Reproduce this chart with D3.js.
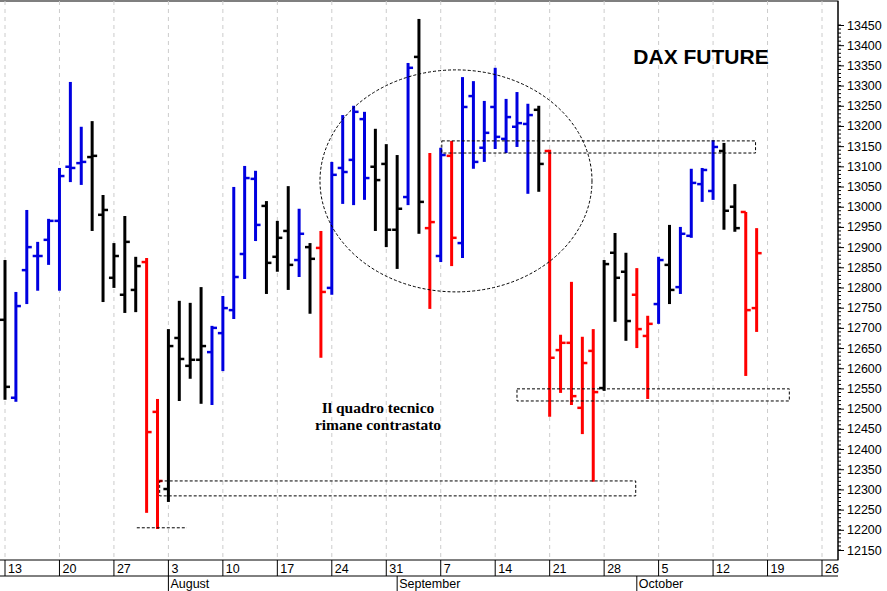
<!DOCTYPE html>
<html><head><meta charset="utf-8">
<script src="https://cdn.jsdelivr.net/npm/d3@7"></script>
<style>body{margin:0;background:#fff}svg{display:block}</style>
</head><body><svg id="c" width="887" height="591"></svg>
<script>
// Daily bars Jul 13 - Oct 16 (trading days, consecutive weekdays)
const opens  = [12720,12527,12843,12878,12918,12965,13099,13108,13123,12980,12824,12782,12794,12863,12492,12301,12675,12606,12621,12640,12687,12744,12883,13069,13002,12876,12940,12868,12900,12898,12799,13096,13116,13217,13099,13106,12943,13024,13371,12947,12878,13126,12910,13274,13146,13247,13168,13198,13205,13240,13138,12645,12663,12502,12643,12551,12886,12839,12782,12680,12759,12856,12801,12928,13056,13039,13138,13000,12987,12749];
const highs  = [12868,12789,12992,12913,12970,13096,13309,13198,13212,13029,12910,12977,12876,12873,12524,12697,12767,12762,12801,12705,12779,13049,13101,13089,13014,12965,13051,12995,12910,12940,13111,13227,13250,13235,13193,13155,13128,13356,13465,13133,13146,13163,13321,13311,13262,13344,13267,13284,13255,13250,13141,12683,12814,12678,12697,12868,12935,12886,12848,12730,12876,12955,12950,13094,13096,13165,13158,13056,12987,12947];
const lows   = [12522,12517,12759,12792,12856,12792,13061,13054,12940,12764,12799,12737,12739,12242,12202,12269,12519,12574,12512,12509,12593,12722,12821,12915,12784,12839,12794,12826,12735,12626,12782,13007,13004,13017,12940,12900,12846,13004,12933,12747,12863,12853,12873,13094,13111,13143,13133,13148,13032,13037,12480,12539,12509,12437,12319,12544,12715,12668,12650,12524,12710,12759,12784,12923,13012,13017,12943,12938,12581,12690];
const closes = [12554,12754,12900,12878,12965,13076,13096,13111,13126,12992,12878,12913,12853,12442,12321,12655,12623,12621,12655,12700,12749,12826,13071,12955,12861,12923,12856,12933,12871,12789,13079,13086,13235,13071,13066,12943,12995,13344,13012,12962,13128,12923,13247,13111,13183,13173,13222,13207,13227,13106,12626,12663,12531,12613,12541,12858,12824,12717,12697,12710,12868,12794,12933,13059,13091,13148,12990,12947,12744,12885];
const barColors = "kbbbbbbbkkkkkrrkkkkbbbbbkkkbkrbbbbkkkbkrbrbbbbbbbkrrrrrkkkrrbkbbbbkkrr";
const weekLabels = ["13","20","27","3","10","17","24","31","7","14","21","28","5","12","19","26"];
const months = [{name:"August", day:15},{name:"September", day:36},{name:"October", day:58}];
const yTicks = d3.range(12150, 13451, 50);
const zones = [{from:40.1, to:68.9, hi:13163, lo:13133},{from:47.0, to:72.0, hi:12549, lo:12519},{from:14.2, to:57.9, hi:12321, lo:12284}];
const supportLine = {from:12.1, to:16.7, v:12205};

const svg = d3.select("#c");
const colorMap = {k:"#000000", b:"#0000e0", r:"#ff0000"};
const x = d3.scaleLinear().domain([0,75]).range([5,822]);
const y = d3.scaleLinear().domain([12150,13450]).range([550,25]);
const R=838, T=1, B=560;

svg.append("rect").attr("x",-1).attr("y",T).attr("width",R+1).attr("height",B-T).attr("fill","none").attr("stroke","#000");
weekLabels.forEach((w,i)=>{
  const xx = x(i*5);
  svg.append("line").attr("x1",xx).attr("x2",xx).attr("y1",T).attr("y2",B).attr("stroke","#ccc").attr("stroke-dasharray","4,4");
});
svg.append("line").attr("x1",0).attr("x2",R).attr("y1",576).attr("y2",576).attr("stroke","#000");
weekLabels.forEach((w,i)=>{
  const xx = x(i*5);
  svg.append("line").attr("x1",xx).attr("x2",xx).attr("y1",B).attr("y2",576).attr("stroke","#000");
  svg.append("text").attr("x",xx+3).attr("y",573).text(w).attr("font-family","Liberation Sans, Arial").attr("font-size",12.5);
});
months.forEach(m=>{
  const xx = x(m.day);
  svg.append("line").attr("x1",xx).attr("x2",xx).attr("y1",576).attr("y2",591).attr("stroke","#000");
  svg.append("text").attr("x",xx+2).attr("y",588).text(m.name).attr("font-family","Liberation Sans, Arial").attr("font-size",12.5);
});
const yAxis = d3.axisRight(y).tickValues(yTicks).tickSize(6).tickFormat(d3.format("d"));
const ga = svg.append("g").attr("transform",`translate(${R},0)`).call(yAxis);
ga.select(".domain").attr("d",`M0,${T}V${B}`);
ga.selectAll("text").attr("font-family","Liberation Sans, Arial").attr("font-size",12.5).attr("fill","#000").attr("x",9);
d3.range(12150,13460,10).forEach(v=>{
  svg.append("line").attr("x1",R).attr("x2",R+3).attr("y1",y(v)).attr("y2",y(v)).attr("stroke","#000");
});

const g = svg.append("g");
opens.forEach((o,i)=>{
  const c = colorMap[barColors[i]], xx = x(i);
  g.append("line").attr("x1",xx).attr("x2",xx).attr("y1",y(highs[i])).attr("y2",y(lows[i])).attr("stroke",c).attr("stroke-width",3);
  g.append("line").attr("x1",xx-5).attr("x2",xx).attr("y1",y(o)).attr("y2",y(o)).attr("stroke",c).attr("stroke-width",2.5);
  g.append("line").attr("x1",xx).attr("x2",xx+5).attr("y1",y(closes[i])).attr("y2",y(closes[i])).attr("stroke",c).attr("stroke-width",2.5);
});

zones.forEach(z=>{
  svg.append("rect").attr("x",x(z.from)).attr("y",y(z.hi)).attr("width",x(z.to)-x(z.from)).attr("height",y(z.lo)-y(z.hi))
    .attr("fill","none").attr("stroke","#000").attr("stroke-dasharray","3,2");
});
svg.append("line").attr("x1",x(supportLine.from)).attr("x2",x(supportLine.to)).attr("y1",y(supportLine.v)).attr("y2",y(supportLine.v))
  .attr("stroke","#000").attr("stroke-dasharray","3,2");
svg.append("ellipse").attr("cx",x(41.4)).attr("cy",y(13064)).attr("rx",136).attr("ry",111)
  .attr("fill","none").attr("stroke","#000").attr("stroke-dasharray","3,2");

svg.append("text").attr("x",701).attr("y",64).attr("text-anchor","middle").text("DAX FUTURE")
  .attr("font-family","Liberation Sans, Arial").attr("font-weight","bold").attr("font-size",21);
svg.append("text").attr("x",378).attr("y",413).attr("text-anchor","middle").text("Il quadro tecnico")
  .attr("font-family","Liberation Serif, Times New Roman").attr("font-weight","bold").attr("font-size",15.5);
svg.append("text").attr("x",378).attr("y",430).attr("text-anchor","middle").text("rimane contrastato")
  .attr("font-family","Liberation Serif, Times New Roman").attr("font-weight","bold").attr("font-size",15.5);
</script></body></html>
